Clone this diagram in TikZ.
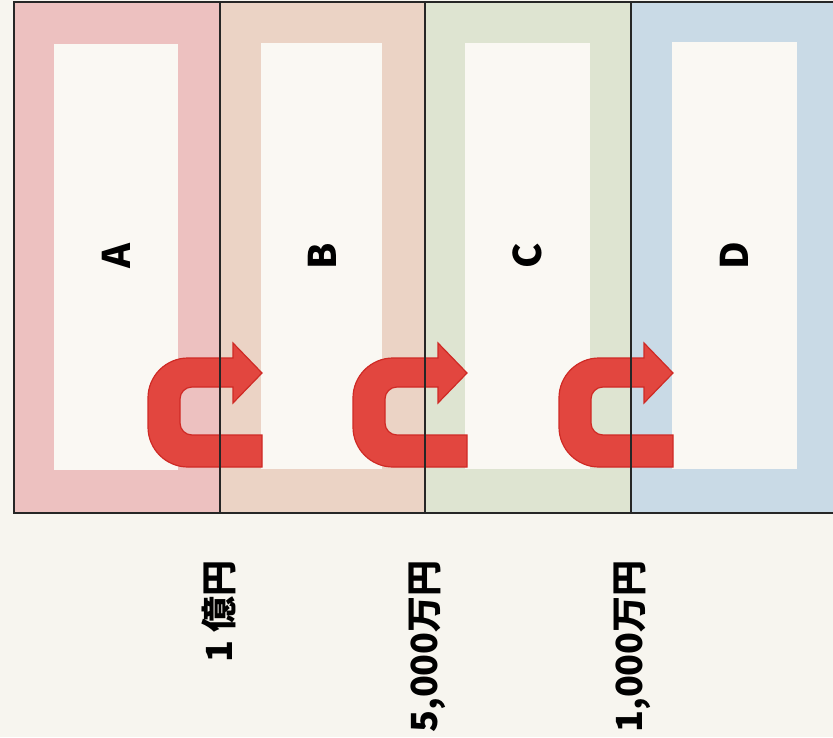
\documentclass[tikz,border=0pt]{standalone}
\usepackage{fontspec}
\setmainfont{Noto Sans CJK JP}
\definecolor{paper}{HTML}{F7F5EF}
\definecolor{panelA}{HTML}{EDC1C0}
\definecolor{panelB}{HTML}{EBD3C5}
\definecolor{panelC}{HTML}{DEE4D1}
\definecolor{panelD}{HTML}{C9DAE6}
\definecolor{inner}{HTML}{FAF8F3}
\definecolor{arrowred}{HTML}{E2463F}
\definecolor{edgered}{HTML}{CF2A25}
\tikzset{
  uturn/.style={fill=arrowred,draw=edgered,line width=1.2pt,line join=miter},
  frame/.style={black!85,line width=1.6pt},
  panelname/.style={rotate=90,inner sep=0pt,font=\fontsize{38}{40}\selectfont\bfseries},
  amount/.style={rotate=90,anchor=east,inner sep=0pt,font=\fontsize{36}{40}\selectfont\bfseries}
}

\begin{document}
\begin{tikzpicture}[x=1pt,y=-1pt]
 \useasboundingbox (0,0) rectangle (833,737);
 \fill[paper] (0,0) rectangle (833,737);
 % coloured frames
 \fill[panelA] (14,2) rectangle (220,513);
 \fill[panelB] (220,2) rectangle (425,513);
 \fill[panelC] (425,2) rectangle (631,513);
 \fill[panelD] (631,2) rectangle (833,513);
 \fill[inner] (54,44) rectangle (178,470);
 \fill[inner] (261,43) rectangle (382,469);
 \fill[inner] (465,43) rectangle (590,469);
 \fill[inner] (672,42) rectangle (797,469);
 % u-turn arrows across each border
 \foreach \bx in {220,425,631}
  \filldraw[uturn] (\bx+42,467) [rounded corners=40] -- (\bx-72,467) -- (\bx-72,358) [sharp corners] -- (\bx+13,358)
   -- (\bx+13,343) -- (\bx+42,373) -- (\bx+13,403) -- (\bx+13,387) [rounded corners=12] -- (\bx-40,387) -- (\bx-40,435)
   [sharp corners] -- (\bx+42,435) -- cycle;
 % border lines
 \draw[frame] (833,2) -- (14,2) -- (14,513) -- (833,513);
 \draw[frame] (220,2) -- (220,513);
 \draw[frame] (425,2) -- (425,513);
 \draw[frame] (631,2) -- (631,513);
 \node[panelname] (nameA) at (116,256) {A};
 \node[panelname] (nameB) at (322,256) {B};
 \node[panelname] (nameC) at (527,256) {C};
 \node[panelname] (nameD) at (734,256) {D};
 \node[amount] (limit1) at (219,560) {1 億円};
 \node[amount] (limit2) at (427,560) {5,000万円};
 \node[amount] (limit3) at (632,560) {1,000万円};
\end{tikzpicture}
\end{document}
